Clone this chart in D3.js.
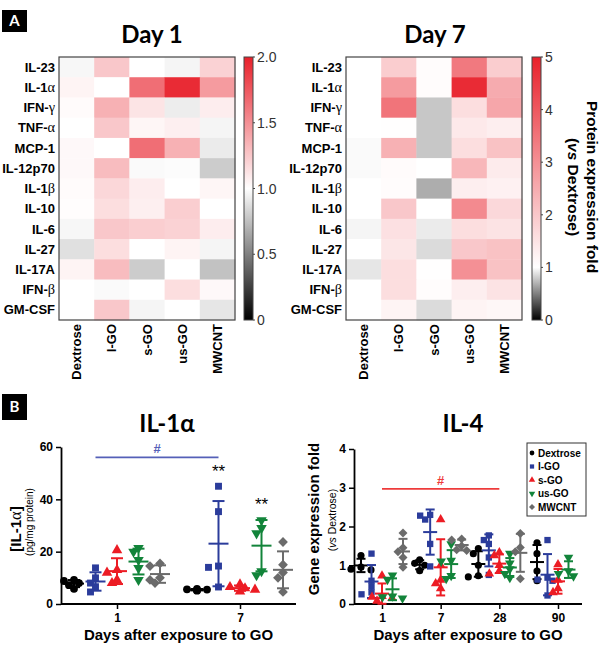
<!DOCTYPE html>
<html>
<head>
<meta charset="utf-8">
<script src="https://cdn.jsdelivr.net/npm/d3@7"></script>
<style>body{margin:0;background:#fff}</style>
</head>
<body>
<script>
// ---- data: heatmaps (fold vs Dextrose) ----
var cytokines = ["IL-23","IL-1α","IFN-γ","TNF-α","MCP-1","IL-12p70","IL-1β","IL-10","IL-6","IL-27","IL-17A","IFN-β","GM-CSF"];
var groups = ["Dextrose","l-GO","s-GO","us-GO","MWCNT"];

var day1Fold = [
  [0.97,1.25,1.00,0.96,1.20],
  [1.05,1.00,1.65,1.95,1.45],
  [1.02,1.35,1.12,0.93,1.08],
  [1.00,1.25,1.04,1.07,0.96],
  [1.03,1.00,1.65,1.35,0.92],
  [1.03,1.30,0.98,0.99,0.80],
  [1.02,1.18,1.08,1.00,1.04],
  [1.01,1.15,1.07,1.22,1.00],
  [0.97,1.25,1.22,1.20,1.08],
  [0.88,1.15,1.00,1.05,0.96],
  [1.05,1.30,0.80,1.00,0.76],
  [1.00,0.98,1.00,1.15,1.03],
  [1.00,1.25,0.96,1.00,0.90]
];
var day7Fold = [
  [1.00,1.90,1.05,3.40,1.90],
  [1.00,2.80,1.05,4.80,2.50],
  [1.00,3.50,0.78,1.60,2.60],
  [1.00,1.02,0.78,1.40,1.30],
  [0.98,2.40,0.78,1.60,2.10],
  [0.98,1.08,1.00,2.30,1.35],
  [1.00,1.05,0.68,1.30,1.25],
  [1.00,2.00,1.00,3.10,1.70],
  [0.96,1.55,0.92,1.60,1.50],
  [1.00,1.45,0.86,2.00,2.10],
  [0.90,1.60,1.02,3.00,2.10],
  [1.00,1.60,1.05,1.30,1.50],
  [1.00,1.20,0.86,1.20,1.15]
];
var day1Ticks = [0, 0.5, 1, 1.5, 2];
var day7Ticks = [0, 1, 2, 3, 4, 5];

// ---- data: IL-1α protein (pg/mg), one array per group ----
var il1aDays = ["1", "7"];
var il1aDay1 = [[9.2,8.8,8,7.2,5.8],[13.8,10,8,6.6,4.6],[20.6,13,12,9.2,8],[21.4,20,16.8,13.7,9.2],[15.5,14.5,10,9.2,8]];
var il1aDay7 = [[5.8,5.6,5.5,5.3,5.1],[45,35.3,14.5,14,6.5],[7.5,6.5,6,5.5,4.8],[32,29,27,12.5,11],[23.7,15,12,10,4.6]];
var il1aTicks = [0, 20, 40, 60];

// ---- data: IL-4 gene expression fold ----
var il4Days = ["1", "7", "28", "90"];
var il4Day1 = [[1.25,0.95,0.9,0.88],[1.3,0.6,0.45,0.3,0.25],[0.73,0.2,0.18,0.15,0.08],[0.74,0.63,0.2,0.18,0.15],[1.83,1.45,1.35,1.2,0.95]];
var il4Day7 = [[1.14,1.05,1.0,0.86],[2.3,2.28,2.18,1.55,0.97],[2.18,1.0,0.62,0.53,0.4],[1.55,1.12,1.1,0.73,0.65],[1.68,1.65,1.5,1.4,1.38]];
var il4Day28 = [[1.43,1.3,1.0,0.73,0.7],[1.77,1.65,1.55,1.2,0.75],[1.33,1.25,1.0,0.85,0.78],[1.3,1.05,0.9,0.78,0.68],[1.82,1.46,1.35,0.65]];
var il4Day90 = [[1.58,1.3,0.85,0.6],[1.65,0.68,0.63,0.6,0.22],[1.02,0.62,0.4,0.3],[1.2,0.85,0.78,0.72],[]];
var il4Ticks = [0, 1, 2, 3, 4];

// colours / symbols per group
var groupColors = ["#000000", "#2b3c9b", "#ec1c24", "#12843a", "#6b6b6b"];
var groupSymbols = ["circle", "square", "up", "down", "diamond"];

var W = 600, H = 647;
var sans = "'Liberation Sans', Arial, sans-serif";

var svg = d3.select("body").append("svg")
    .attr("width", W).attr("height", H)
    .style("font-family", sans);
svg.append("rect").attr("width", W).attr("height", H).attr("fill", "#fff");
var defs = svg.append("defs");

// writes a label, greek letters in a thin serif like the original
function greekText(sel, s) {
  s.split(/([αβγ])/).forEach(function(p) {
    if (!p) return;
    var t = sel.append("tspan").text(p);
    if (/[αβγ]/.test(p)) t.style("font-family", "'Liberation Serif', serif").style("font-weight", "normal").style("font-size", "1.1em");
  });
}

function panelTag(letter, x, y, w, h) {
  svg.append("rect").attr("x", x).attr("y", y).attr("width", w).attr("height", h).attr("fill", "#000");
  svg.append("text").attr("x", x + w / 2).attr("y", y + h / 2).attr("dy", "0.36em")
    .attr("text-anchor", "middle").attr("fill", "#fff")
    .style("font-family", "Lato, sans-serif").style("font-weight", "bold").style("font-size", "15px")
    .text(letter);
}

// ---- heatmap ----
function drawHeat(vals, o) {
  var g = svg.append("g");
  var top = 57, bottom = 320;
  var x = d3.scaleBand().domain(groups).range([o.x0, o.x0 + 176]);
  var y = d3.scaleBand().domain(cytokines).range([top, bottom]);
  var color = d3.scaleLinear().domain([0, 1, o.max]).range(["#000000", "#ffffff", "#e8202a"]);

  var cells = [];
  vals.forEach(function(row, i) {
    row.forEach(function(v, j) { cells.push({ r: cytokines[i], c: groups[j], v: v }); });
  });
  g.selectAll("rect.cell").data(cells).join("rect")
      .attr("class", "cell")
      .attr("x", function(d) { return x(d.c); })
      .attr("y", function(d) { return y(d.r); })
      .attr("width", x.bandwidth() + 0.4)
      .attr("height", y.bandwidth() + 0.4)
      .attr("fill", function(d) { return color(d.v); });
  g.append("rect").attr("x", o.x0).attr("y", top).attr("width", 176).attr("height", bottom - top)
      .attr("fill", "none").attr("stroke", "#444").attr("stroke-width", 1.2);

  g.selectAll("text.row").data(cytokines).join("text")
      .attr("class", "row")
      .attr("x", o.x0 - 4)
      .attr("y", function(d) { return y(d) + y.bandwidth() / 2; })
      .attr("dy", "0.35em").attr("text-anchor", "end")
      .style("font-weight", "bold").style("font-size", "13px")
      .each(function(d) { greekText(d3.select(this), d); });

  g.selectAll("text.col").data(groups).join("text")
      .attr("class", "col")
      .attr("transform", function(d) { return "translate(" + (x(d) + x.bandwidth() / 2 + 4.5) + "," + (bottom + 4) + ") rotate(-90)"; })
      .attr("text-anchor", "end")
      .style("font-weight", "bold").style("font-size", "13px")
      .text(function(d) { return d; });

  g.append("text").attr("x", o.titleX).attr("y", 43).attr("text-anchor", "middle")
      .style("font-family", "Lato, sans-serif").style("font-weight", "bold").style("font-size", "24px")
      .text(o.title);

  // colour bar
  var id = "grad" + o.x0;
  var grad = defs.append("linearGradient").attr("id", id)
      .attr("x1", 0).attr("y1", 1).attr("x2", 0).attr("y2", 0);
  d3.range(0, 1.0001, 0.02).forEach(function(t) {
    grad.append("stop").attr("offset", t).attr("stop-color", color(t * o.max));
  });
  var cy = d3.scaleLinear().domain([0, o.max]).range([bottom, top]);
  g.append("rect").attr("x", o.cbX).attr("y", top).attr("width", 9).attr("height", bottom - top)
      .attr("fill", "url(#" + id + ")").attr("stroke", "#444").attr("stroke-width", 1);
  g.selectAll("line.cbt").data(o.ticks).join("line")
      .attr("x1", o.cbX + 9).attr("x2", o.cbX + 11)
      .attr("y1", function(d) { return cy(d); }).attr("y2", function(d) { return cy(d); })
      .attr("stroke", "#444");
  g.selectAll("text.cbl").data(o.ticks).join("text")
      .attr("x", o.cbX + 13).attr("y", function(d) { return cy(d); }).attr("dy", "0.36em")
      .style("font-size", "14px").attr("fill", "#333")
      .text(o.fmt);
}

drawHeat(day1Fold, { x0: 59, max: 2, title: "Day 1", titleX: 152, cbX: 244, ticks: day1Ticks,
  fmt: function(d) { return d === 0 ? "0" : d3.format(".1f")(d); } });
drawHeat(day7Fold, { x0: 346, max: 5, title: "Day 7", titleX: 435, cbX: 532, ticks: day7Ticks,
  fmt: function(d) { return d; } });

// colour bar title (Day 7)
svg.append("text").attr("transform", "translate(587,187) rotate(90)").attr("text-anchor", "middle")
    .style("font-weight", "bold").style("font-size", "15.5px").text("Protein expression fold");
var vsT = svg.append("text").attr("transform", "translate(568,187) rotate(90)").attr("text-anchor", "middle")
    .style("font-weight", "bold").style("font-size", "15.5px");
vsT.append("tspan").text("(");
vsT.append("tspan").style("font-style", "italic").text("vs");
vsT.append("tspan").text(" Dextrose)");

panelTag("A", 2, 10, 25, 22);
panelTag("B", 2, 394, 25, 26);

// ---- scatter with mean ± SD ----
function marker(sel, kind, size) {
  var type = kind === "circle" ? d3.symbolCircle : (kind === "up" || kind === "down") ? d3.symbolTriangle : d3.symbolSquare;
  sel.attr("d", d3.symbol().type(type).size(size)());
  return kind === "down" ? " rotate(180)" : kind === "diamond" ? " rotate(45)" : "";
}

function swarm(vals, y, step) {
  var placed = [];
  return vals.map(function(v) {
    var py = y(v), dx = 0;
    var cands = [0, -1, 1, -2, 2, -3, 3];
    for (var k = 0; k < cands.length; k++) {
      var cx = cands[k] * step;
      var ok = placed.every(function(p) { return Math.hypot(p[0] - cx, p[1] - py) >= step * 1.15; });
      if (ok) { dx = cx; break; }
    }
    placed.push([dx, py]);
    return [dx, py];
  });
}

function drawScatter(o) {
  var g = svg.append("g");
  var y = d3.scaleLinear().domain([0, o.yMax]).range([604, o.yTop]);
  var x = d3.scalePoint().domain(o.days).range(o.dayRange);
  var off = d3.scalePoint().domain(groups).range([-o.spread, o.spread]);

  var ya = g.append("g").attr("transform", "translate(" + o.axisX + ",0)")
      .call(d3.axisLeft(y).tickValues(o.yTicks).tickFormat(d3.format("d")).tickSize(5).tickSizeOuter(0).tickPadding(3));
  ya.attr("font-family", null).attr("font-size", null);
  ya.select(".domain").attr("stroke-width", 1.8);
  ya.selectAll(".tick line").attr("stroke-width", 1.5);
  ya.selectAll(".tick text").style("font-weight", "bold").style("font-size", "12px");

  g.append("line").attr("x1", o.axisX).attr("x2", o.axisEnd).attr("y1", 604).attr("y2", 604)
      .attr("stroke", "#000").attr("stroke-width", 1.8);
  var xa = g.append("g").attr("transform", "translate(0,604)")
      .call(d3.axisBottom(x).tickSize(5).tickPadding(4).tickSizeOuter(0));
  xa.attr("font-family", null).attr("font-size", null);
  xa.select(".domain").remove();
  xa.selectAll(".tick line").attr("stroke-width", 1.5);
  xa.selectAll(".tick text").style("font-weight", "bold").style("font-size", "12px");

  g.append("text").attr("x", (o.axisX + o.axisEnd) / 2).attr("y", 640).attr("text-anchor", "middle")
      .style("font-weight", "bold").style("font-size", "15px").text("Days after exposure to GO");

  g.append("text").attr("x", o.titleX).attr("y", 432).attr("text-anchor", "middle")
      .style("font-family", "Lato, sans-serif").style("font-weight", "bold").style("font-size", "24px")
      .text(o.title);

  o.data.forEach(function(dayVals, di) {
    dayVals.forEach(function(vals, gi) {
      if (!vals.length) return;
      var cx = x(o.days[di]) + off(groups[gi]);
      var col = groupColors[gi];
      var m = d3.mean(vals), sd = d3.deviation(vals);
      var pos = swarm(vals, y, o.step);
      pos.forEach(function(p) {
        var path = g.append("path").attr("fill", col);
        var rot = marker(path, groupSymbols[gi], o.msize);
        path.attr("transform", "translate(" + (cx + p[0]) + "," + p[1] + ")" + rot);
      });
      var eb = g.append("g").attr("stroke", col).attr("stroke-width", 2).attr("fill", "none");
      eb.append("line").attr("x1", cx).attr("x2", cx).attr("y1", y(Math.max(0, m - sd))).attr("y2", y(m + sd));
      [m - sd, m + sd].forEach(function(v) {
        if (v < 0) return;
        eb.append("line").attr("x1", cx - o.cap).attr("x2", cx + o.cap).attr("y1", y(v)).attr("y2", y(v));
      });
      eb.append("line").attr("x1", cx - o.meanW).attr("x2", cx + o.meanW).attr("y1", y(m)).attr("y2", y(m));
    });
  });

  // significance bar
  var b = o.sig;
  var bx1 = x(b.from) + off(b.group), bx2 = x(b.to) + off(b.group);
  g.append("line").attr("x1", bx1).attr("x2", bx2).attr("y1", y(b.level)).attr("y2", y(b.level))
      .attr("stroke", b.color).attr("stroke-width", 1.8);
  g.append("text").attr("x", (bx1 + bx2) / 2).attr("y", y(b.level) - 4).attr("text-anchor", "middle")
      .attr("fill", b.color).style("font-weight", "bold").style("font-size", "13px").text("#");

  (o.stars || []).forEach(function(s) {
    g.append("text").attr("x", x(s.day) + off(s.group)).attr("y", y(s.level)).attr("text-anchor", "middle")
        .style("font-size", "17px").text("**");
  });
}

drawScatter({
  title: "IL-1α", titleX: 167, days: il1aDays, data: [il1aDay1, il1aDay7],
  yMax: 60, yTop: 447, yTicks: il1aTicks, axisX: 61, axisEnd: 296, dayRange: [117, 240],
  spread: 43, step: 5, msize: 48, cap: 6, meanW: 10,
  sig: { from: "1", to: "7", group: "l-GO", level: 56, color: "#5560b8" },
  stars: [{ day: "7", group: "l-GO", level: 48.5 }, { day: "7", group: "us-GO", level: 36 }]
});

drawScatter({
  title: "IL-4", titleX: 463, days: il4Days, data: [il4Day1, il4Day7, il4Day28, il4Day90],
  yMax: 4, yTop: 449, yTicks: il4Ticks, axisX: 354, axisEnd: 582, dayRange: [382, 558],
  spread: 21, step: 5, msize: 40, cap: 4.5, meanW: 7,
  sig: { from: "1", to: "28", group: "s-GO", level: 2.97, color: "#ee3b3b" }
});

// y-axis titles
var t1 = svg.append("text").attr("transform", "translate(21,529) rotate(-90)").attr("text-anchor", "middle")
    .style("font-weight", "bold").style("font-size", "15px");
greekText(t1, "[IL-1α]");
svg.append("text").attr("transform", "translate(33,522) rotate(-90)").attr("text-anchor", "middle")
    .style("font-size", "10px").text("(pg/mg protein)");
svg.append("text").attr("transform", "translate(319,519) rotate(-90)").attr("text-anchor", "middle")
    .style("font-weight", "bold").style("font-size", "15px").text("Gene expression fold");
var t2 = svg.append("text").attr("transform", "translate(336,520) rotate(-90)").attr("text-anchor", "middle")
    .style("font-size", "10.5px");
t2.append("tspan").text("(");
t2.append("tspan").style("font-style", "italic").text("vs");
t2.append("tspan").text(" Dextrose)");

// legend
var lg = svg.append("g").attr("transform", "translate(527,443)");
lg.append("rect").attr("width", 59).attr("height", 73).attr("fill", "#fff").attr("stroke", "#333");
groups.forEach(function(name, i) {
  var ly = 10 + i * 13.5;
  var p = lg.append("path").attr("fill", groupColors[i]);
  var rot = marker(p, groupSymbols[i], 18);
  p.attr("transform", "translate(5," + ly + ")" + rot);
  lg.append("text").attr("x", 11).attr("y", ly).attr("dy", "0.35em")
      .style("font-weight", "bold").style("font-size", "10px").text(name);
});
</script>
</body>
</html>
